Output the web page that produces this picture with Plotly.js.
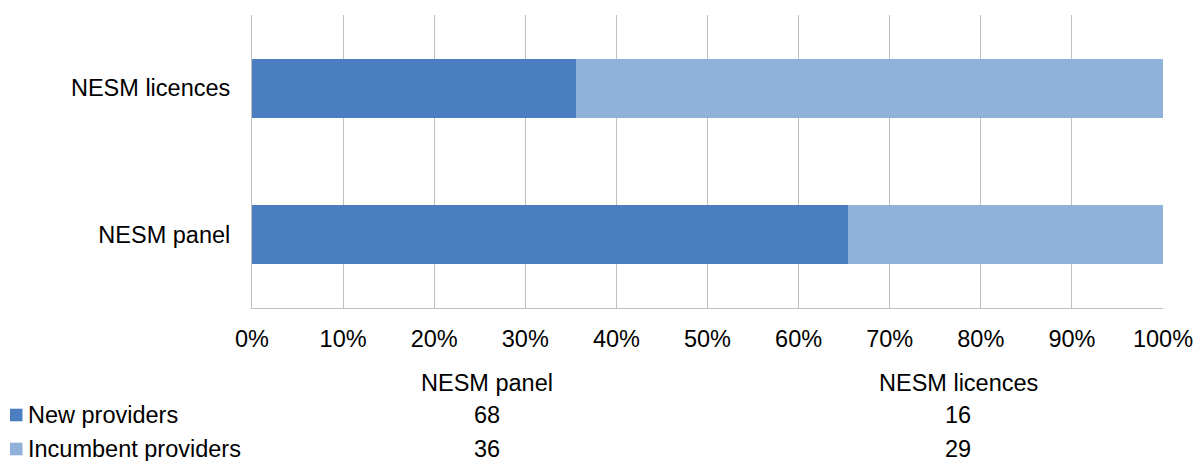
<!DOCTYPE html>
<html>
<head>
<meta charset="utf-8">
<script src="https://cdn.plot.ly/plotly-3.0.1.min.js"></script>
<style>
  html, body { margin: 0; padding: 0; background: #ffffff; }
  #chart { width: 1195px; height: 461px; }
</style>
</head>
<body>
<div id="chart"></div>
<script>
// Provider counts by route, shown as 100% stacked bars with a data table underneath
const categories = ['NESM panel', 'NESM licences'];
const seriesNames = ['New providers', 'Incumbent providers'];
const newProviders = [68, 16];
const incumbentProviders = [36, 29];
const seriesColors = ['#4A7EC0', '#8FB1DA'];
const tickValues = [0, 10, 20, 30, 40, 50, 60, 70, 80, 90, 100];
const tickLabels = tickValues.map(v => v + '%');

const W = 1195, H = 461;
const M = { l: 252, r: 32, t: 15, b: 153 };
const plotW = W - M.l - M.r, plotH = H - M.t - M.b;
const px2x = px => (px - M.l) / plotW;
const px2y = py => (H - M.b - py) / plotH;

const FONT = 'Liberation Sans, Arial, sans-serif';
const FS = 23.5;

const seriesValues = [newProviders, incumbentProviders];

const traces = seriesNames.map((name, i) => ({
  type: 'bar',
  orientation: 'h',
  name: name,
  y: categories,
  x: seriesValues[i],
  marker: { color: seriesColors[i], line: { width: 0 } },
  hoverinfo: 'none'
}));

// Data table beneath the axis: column headers, then one row per series
const colCenters = [487, 958];
const rowY = [415, 449];
const annotations = [];
const shapes = [];
categories.forEach((c, j) => {
  annotations.push({
    xref: 'paper', yref: 'paper', x: px2x(colCenters[j]), y: px2y(383),
    xanchor: 'center', yanchor: 'middle', text: c, showarrow: false,
    font: { family: FONT, size: FS, color: '#000' }
  });
});
seriesNames.forEach((name, i) => {
  shapes.push({
    type: 'rect', xref: 'paper', yref: 'paper',
    x0: px2x(10), x1: px2x(22.5), y0: px2y(rowY[i] - 6.3), y1: px2y(rowY[i] + 6.3),
    fillcolor: seriesColors[i], line: { width: 0 }
  });
  annotations.push({
    xref: 'paper', yref: 'paper', x: px2x(26), y: px2y(rowY[i]),
    xanchor: 'left', yanchor: 'middle', text: name, showarrow: false,
    font: { family: FONT, size: FS, color: '#000' }
  });
  categories.forEach((c, j) => {
    annotations.push({
      xref: 'paper', yref: 'paper', x: px2x(colCenters[j]), y: px2y(rowY[i]),
      xanchor: 'center', yanchor: 'middle', text: String(seriesValues[i][j]), showarrow: false,
      font: { family: FONT, size: FS, color: '#000' }
    });
  });
});

const layout = {
  width: W, height: H,
  margin: M,
  paper_bgcolor: '#ffffff',
  plot_bgcolor: '#ffffff',
  barmode: 'stack',
  barnorm: 'percent',
  bargap: 0.6,
  showlegend: false,
  font: { family: FONT, size: FS, color: '#000' },
  xaxis: {
    range: [0, 100],
    tickvals: tickValues,
    ticktext: tickLabels,
    showgrid: true, gridcolor: '#BFBFBF', gridwidth: 1,
    zeroline: false,
    showline: true, linecolor: '#BFBFBF', linewidth: 1,
    ticks: '',
    ticklabelstandoff: 10,
    tickfont: { family: FONT, size: FS, color: '#000' },
    fixedrange: true
  },
  yaxis: {
    categoryorder: 'array', categoryarray: categories,
    showgrid: false, zeroline: false,
    showline: true, linecolor: '#BFBFBF', linewidth: 1,
    ticks: '',
    ticklabelstandoff: 16,
    tickfont: { family: FONT, size: FS, color: '#000' },
    fixedrange: true
  },
  annotations: annotations,
  shapes: shapes
};

Plotly.newPlot('chart', traces, layout, { displayModeBar: false, staticPlot: true });
</script>
</body>
</html>
